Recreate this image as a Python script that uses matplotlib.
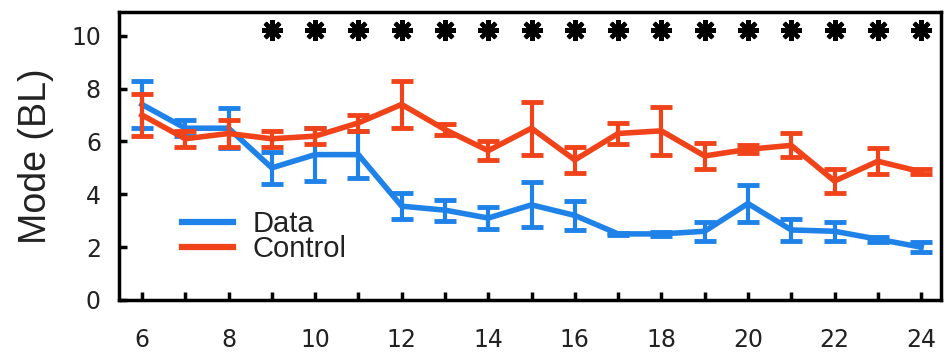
import matplotlib
matplotlib.use("Agg")
import matplotlib.pyplot as plt
from matplotlib.lines import Line2D
import numpy as np

plt.rcParams['font.family'] = ['Liberation Sans', 'DejaVu Sans']

# Day index along the x axis
days = [6, 7, 8, 9, 10, 11, 12, 13, 14, 15, 16, 17, 18, 19, 20, 21, 22, 23, 24]

# Mode (body lengths), mean and error
data_mean = [7.4, 6.5, 6.5, 5.0, 5.5, 5.5, 3.55, 3.4, 3.1, 3.6, 3.2, 2.5, 2.5, 2.6, 3.65, 2.65, 2.6, 2.3, 2.0]
data_err = [0.9, 0.3, 0.75, 0.6, 1.0, 0.9, 0.5, 0.4, 0.4, 0.85, 0.55, 0.05, 0.08, 0.35, 0.7, 0.4, 0.35, 0.1, 0.2]

control_mean = [7.0, 6.1, 6.3, 6.1, 6.2, 6.7, 7.4, 6.45, 5.65, 6.5, 5.3, 6.3, 6.4, 5.45, 5.7, 5.85, 4.5, 5.25, 4.85]
control_err = [0.8, 0.3, 0.5, 0.3, 0.3, 0.3, 0.9, 0.2, 0.35, 1.0, 0.5, 0.4, 0.9, 0.5, 0.15, 0.45, 0.45, 0.5, 0.1]

# Days marked as significant
sig_days = [9, 10, 11, 12, 13, 14, 15, 16, 17, 18, 19, 20, 21, 22, 23, 24]
sig_level = 10.2

blue = '#1f82e8'
red = '#f0431a'

fig = plt.figure(figsize=(9.52, 3.61), dpi=100)
ax = fig.add_axes([0.125, 0.169, 0.863, 0.798])

ax.errorbar(days, data_mean, yerr=data_err, color=blue, lw=4, elinewidth=3,
            capsize=8, capthick=3.5, zorder=3)
ax.errorbar(days, control_mean, yerr=control_err, color=red, lw=4, elinewidth=3,
            capsize=8, capthick=3.5, zorder=4)

ax.plot(sig_days, [sig_level] * len(sig_days), linestyle='none', marker=(8, 2, 0),
        markersize=15, mew=3, color='black', zorder=5)

ax.set_xlim(5.47, 24.45)
ax.set_ylim(0, 10.9)
ax.set_xticks(np.arange(6, 25, 1))
ax.set_xticklabels([str(d) if d % 2 == 0 else '' for d in range(6, 25)])
ax.set_yticks([0, 2, 4, 6, 8, 10])

ax.tick_params(axis='both', direction='in', length=6, width=2.5, colors='black',
               top=False, right=False)
ax.tick_params(axis='x', pad=20)
ax.tick_params(axis='y', pad=13)
for lab in ax.get_xticklabels() + ax.get_yticklabels():
    lab.set_family(['DejaVu Sans'])
    lab.set_fontsize(17)
    lab.set_color('#222222')
for s in ax.spines.values():
    s.set_linewidth(2.5)

ax.set_ylabel('Mode (BL)', fontsize=27, labelpad=12, color='#222222')

handles = [Line2D([], [], color=blue, lw=4.5), Line2D([], [], color=red, lw=4.5)]
ax.legend(handles, ['Data', 'Control'], loc='lower left', bbox_to_anchor=(0.077, 0.128),
          frameon=False, fontsize=21, handlelength=1.75, handletextpad=0.65,
          labelspacing=-0.1, borderaxespad=0, borderpad=0, labelcolor='#222222')

fig.savefig('out.png', dpi=100)
